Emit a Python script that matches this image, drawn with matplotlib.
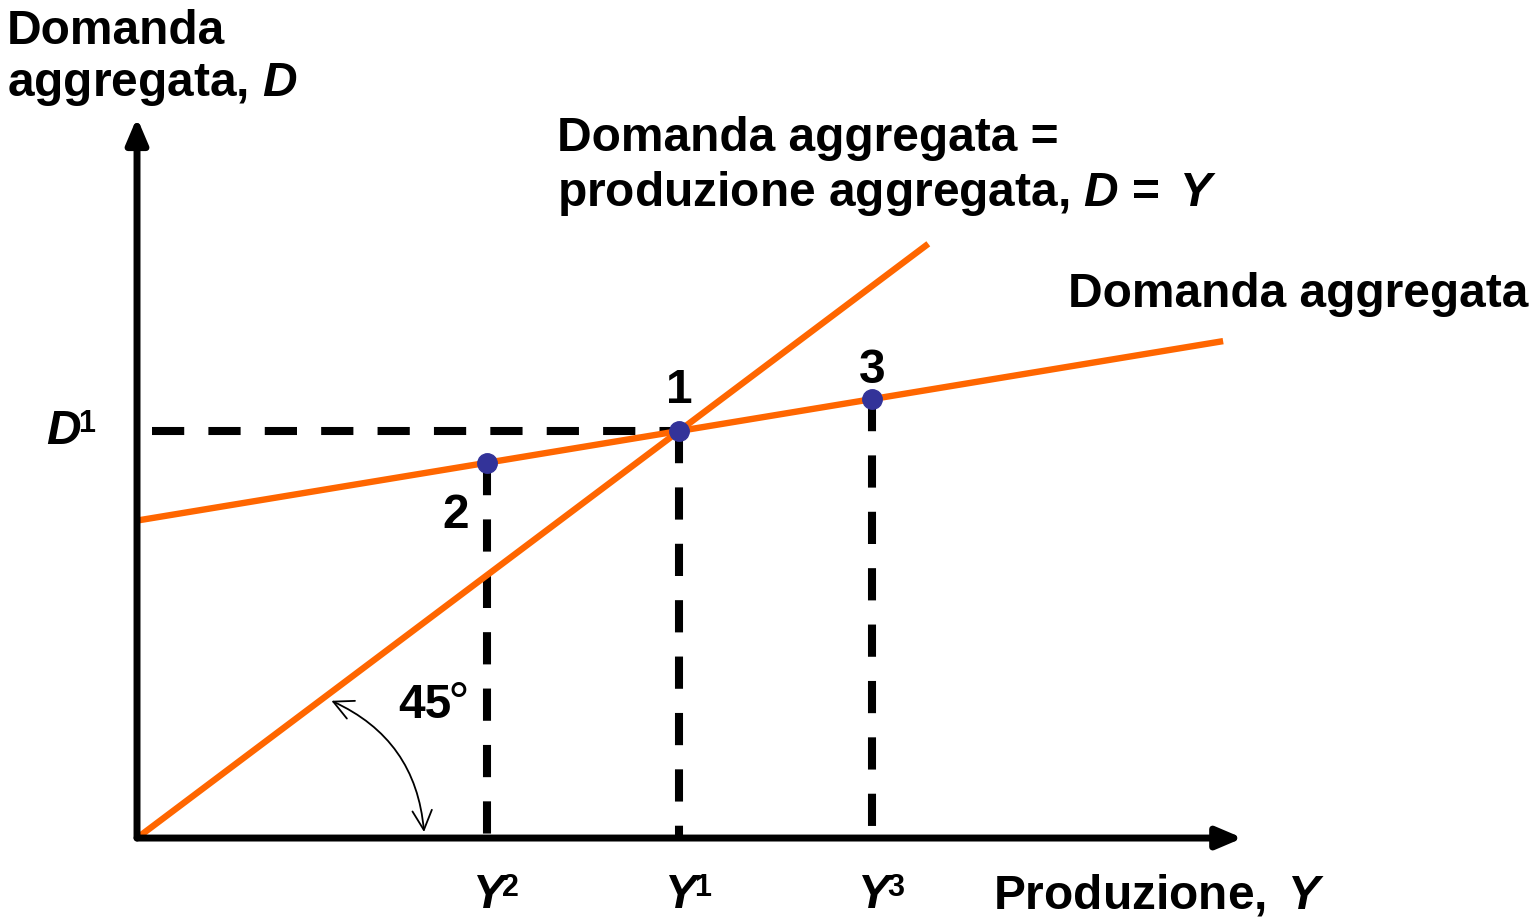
import matplotlib.pyplot as plt
from matplotlib.patches import FancyArrowPatch

plt.rcParams['font.family'] = ['Liberation Sans', 'DejaVu Sans']
plt.rcParams['mathtext.fontset'] = 'custom'
plt.rcParams['mathtext.rm'] = 'Liberation Sans:bold'
plt.rcParams['mathtext.it'] = 'Liberation Sans:italic:bold'
plt.rcParams['mathtext.bf'] = 'Liberation Sans:bold'

# ---------------------------------------- DATA ----------------------------------------
# output levels Y2, Y1, Y3 and the demand at each point
point_names = ['2', '1', '3']
y_levels = [3.23, 5.0, 6.78]
ad_intercept = 3.9
ad_slope = 0.22
ad_range = [0.0, 10.02]
line45_range = [0.0, 7.3]
tick_sups = ['2', '1', '3']
axis_max = [10.2, 8.85]

ORANGE = '#FF6600'
DOT = '#333399'

# ---------------------------------------- FIGURE ----------------------------------------
fig = plt.figure(figsize=(15.34, 9.17), dpi=100)
ax = fig.add_axes([0, 0, 1, 1])
ax.set_xlim(-1.264, 12.888)
ax.set_ylim(-0.97, 10.295)
ax.axis('off')

ad = [ad_intercept + ad_slope * y for y in y_levels]
d1 = ad[1]
dash = (0, (4, 3))

# dashed guides
for y, d in zip(y_levels, ad):
    ax.plot([y, y], [d, 0], color='black', lw=5.8, ls=dash, dash_capstyle='butt', zorder=1)
ax.plot([0.14, y_levels[1]], [d1, d1], color='black', lw=5.8, ls=dash, dash_capstyle='butt', zorder=1)

# axes with arrows
for end in [(axis_max[0], 0), (0, axis_max[1])]:
    ax.annotate('', xy=end, xytext=(0, 0),
                arrowprops=dict(arrowstyle='-|>,head_length=0.4,head_width=0.17',
                                lw=5.0, color='black', mutation_scale=38,
                                shrinkA=0, shrinkB=0), zorder=3)

# 45 degree line and aggregate demand
ax.plot(line45_range, line45_range, color=ORANGE, lw=4.6, solid_capstyle='butt', zorder=2)
ax.plot(ad_range, [ad_intercept + ad_slope * y for y in ad_range],
        color=ORANGE, lw=4.6, solid_capstyle='butt', zorder=2)

# equilibrium points
ax.plot(y_levels, ad, 'o', color=DOT, ms=14, zorder=4)

fs = 34.5
sfs = 22
ax.text(y_levels[1], d1 + 0.5, point_names[1], fontsize=fs, fontweight='bold', ha='center', va='center')
ax.text(y_levels[0] - 0.29, ad[0] - 0.65, point_names[0], fontsize=fs, fontweight='bold', ha='center', va='center')
ax.text(y_levels[2], ad[2] + 0.35, point_names[2], fontsize=fs, fontweight='bold', ha='center', va='center')


def sup_label(x, y, main, sup):
    t = ax.text(x, y, main, fontsize=fs, fontweight='bold', style='italic', ha='center', va='center')
    ax.annotate(sup, xy=(1, 1), xycoords=t, xytext=(-2, 0), textcoords='offset points',
                fontsize=sfs, fontweight='bold', ha='left', va='top')


for y, s in zip(y_levels, tick_sups):
    sup_label(y + 0.02, -0.70, 'Y', s)
sup_label(-0.68, d1, 'D', '1')

# 45 degree arc
arc = FancyArrowPatch((1.77, 1.70), (2.65, 0.04), connectionstyle='arc3,rad=-0.3',
                      arrowstyle='<->,head_length=0.7,head_width=0.35',
                      mutation_scale=20, lw=1.3, color='black', zorder=3)
ax.add_patch(arc)
ax.text(2.41, 1.63, '45', fontsize=fs, fontweight='bold', ha='left', va='center')
ax.text(2.83, 1.80, '\u2218', fontsize=fs, ha='left', va='center', family=['DejaVu Sans'])

# labels
ax.text(-1.2, 10.18, 'Domanda\naggregata, $D$', fontsize=fs, fontweight='bold',
        ha='left', va='top', linespacing=1.19)
ax.text(3.875, 8.87, 'Domanda aggregata =\nproduzione aggregata, $D$ = $\\,Y$', fontsize=fs,
        fontweight='bold', ha='left', va='top', linespacing=1.21)
ax.text(8.59, 6.95, 'Domanda aggregata', fontsize=fs, fontweight='bold', ha='left', va='top')
ax.text(7.9, -0.70, 'Produzione, $\\,Y$', fontsize=fs, fontweight='bold', ha='left', va='center')

fig.savefig('out.png', dpi=100)
